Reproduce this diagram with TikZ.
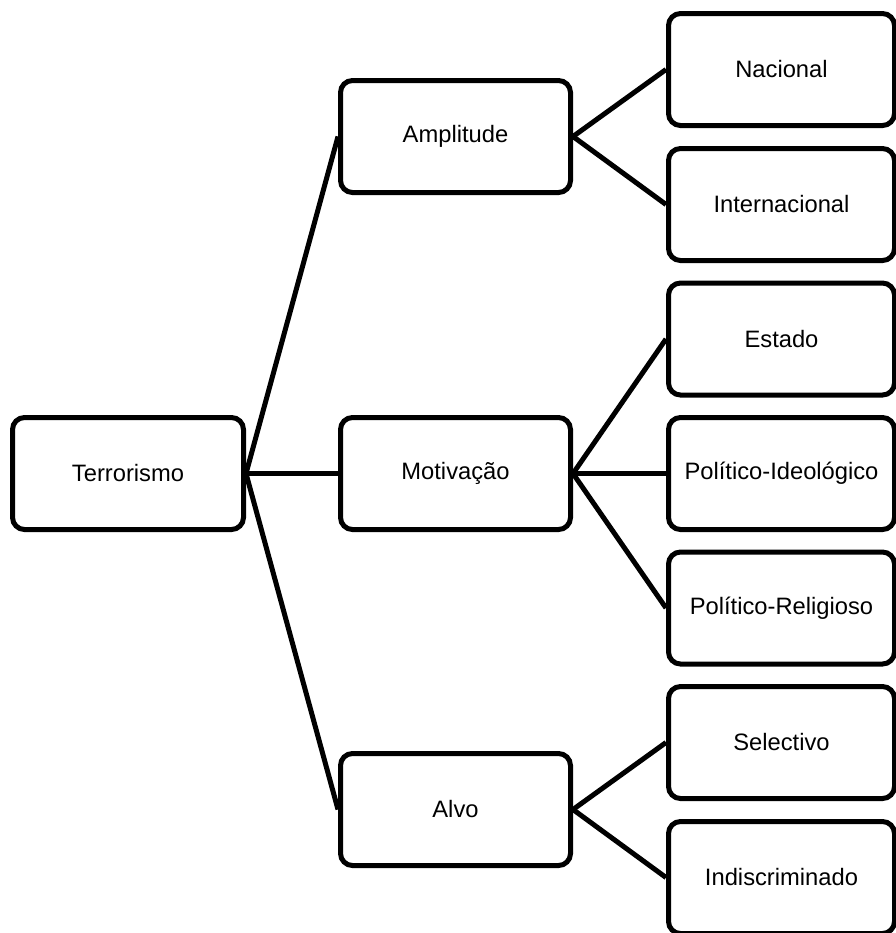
\documentclass[tikz,border=0pt]{standalone}
\usepackage{fontspec}
\setmainfont{Liberation Sans}
\usetikzlibrary{calc}

\begin{document}
\begin{tikzpicture}[x=0.75pt, y=-0.75pt,
	caixa/.style={draw, line width=3.75pt, rounded corners=9pt, fill=white,
		minimum width=172.5pt, minimum height=84pt, inner sep=0pt,
		font=\fontsize{17.8pt}{21pt}\selectfont},
	folha/.style={caixa, minimum width=169.5pt},
	ramo/.style={line width=3.75pt}]
			%%%%% START %%%%%
			
			\clip (0, 0) rectangle (896, 933);
			
			\node[caixa, minimum width=173.25pt] (terror) at (128, 473.5) {Terrorismo};
			
			\node[caixa] (amplitude) at (455.5, 136.5) {Amplitude};
			\node[caixa] (motivacao) at (455.5, 473.5) {Motiva\c{c}\~ao};
			\node[caixa] (alvo) at (455.5, 809.5) {Alvo};
			
			\node[folha] (nacional) at (781.5, 69.5) {Nacional};
			\node[folha] (internacional) at (781.5, 204.5) {Internacional};
			\node[folha] (estado) at (781.5, 339) {Estado};
			\node[folha] (ideologico) at (781.5, 473.5) {Pol\'itico-Ideol\'ogico};
			\node[folha] (religioso) at (781.5, 608) {Pol\'itico-Religioso};
			\node[folha] (selectivo) at (781.5, 742.5) {Selectivo};
			\node[folha] (indiscriminado) at (781.5, 877.5) {Indiscriminado};
			
			\draw[ramo] (terror.east) -- (amplitude.west);
			\draw[ramo] (terror.east) -- (motivacao.west);
			\draw[ramo] (terror.east) -- (alvo.west);
			
			\draw[ramo] (amplitude.east) -- (nacional.west);
			\draw[ramo] (amplitude.east) -- (internacional.west);
			
			\draw[ramo] (motivacao.east) -- (estado.west);
			\draw[ramo] (motivacao.east) -- (ideologico.west);
			\draw[ramo] (motivacao.east) -- (religioso.west);
			
			\draw[ramo] (alvo.east) -- (selectivo.west);
			\draw[ramo] (alvo.east) -- (indiscriminado.west);
			
			%%%%% END %%%%%
\end{tikzpicture}
\end{document}
